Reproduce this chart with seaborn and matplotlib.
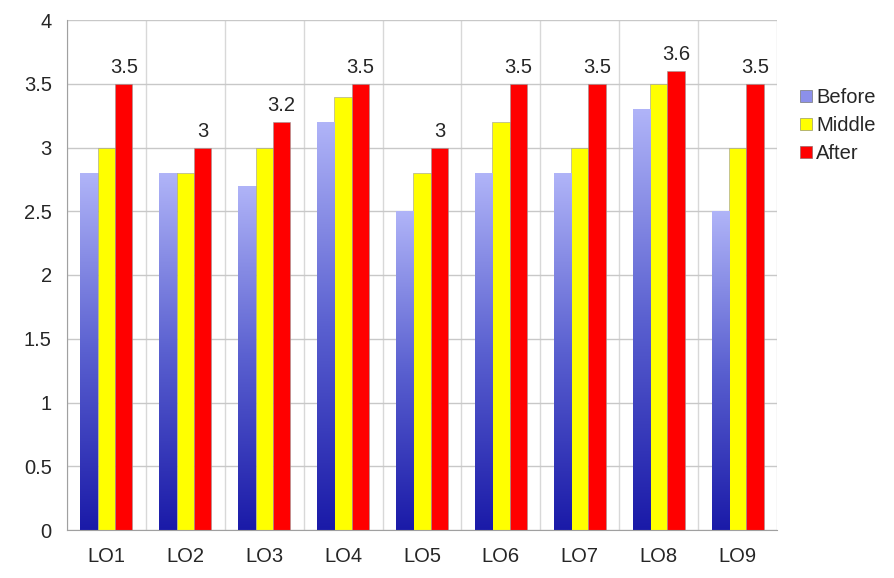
import matplotlib
matplotlib.use("Agg")
import matplotlib.pyplot as plt
import numpy as np
import pandas as pd
import seaborn as sns
from matplotlib.colors import LinearSegmentedColormap
from matplotlib.patches import Patch

# Data
categories = ["LO1", "LO2", "LO3", "LO4", "LO5", "LO6", "LO7", "LO8", "LO9"]
before = [2.8, 2.8, 2.7, 3.2, 2.5, 2.8, 2.8, 3.3, 2.5]
middle = [3.0, 2.8, 3.0, 3.4, 2.8, 3.2, 3.0, 3.5, 3.0]
after = [3.5, 3.0, 3.2, 3.5, 3.0, 3.5, 3.5, 3.6, 3.5]
series = ["Before", "Middle", "After"]

df = pd.DataFrame({
    "LO": categories * 3,
    "Score": before + middle + after,
    "Phase": [s for s in series for _ in categories],
})

sns.set_style("white")
plt.rcParams["font.family"] = ["Liberation Sans", "DejaVu Sans"]
FS = 14.5

fig = plt.figure(figsize=(8.95, 5.78), dpi=100)
ax = fig.add_axes([67 / 895, 48 / 578, 710 / 895, 510 / 578])

palette = {"Before": "#7b80e0", "Middle": "#ffff00", "After": "#ff0000"}
sns.barplot(data=df, x="LO", y="Score", hue="Phase", hue_order=series,
            palette=palette, width=0.66, saturation=1, ax=ax,
            edgecolor="#999999", linewidth=0.4, legend=False)

# gradient fill for the "Before" bars
cmap = LinearSegmentedColormap.from_list("bl", ["#1a1aa8", "#5a60d0", "#b0b4f8"])
grad = np.linspace(0, 1, 256).reshape(-1, 1)
for bar in ax.containers[0]:
    x0, y0 = bar.get_x(), bar.get_y()
    w, h = bar.get_width(), bar.get_height()
    im = ax.imshow(grad, cmap=cmap, origin="lower", aspect="auto",
                   extent=[x0, x0 + w, y0, y0 + h], zorder=bar.get_zorder())
    im.set_clip_path(bar)
    bar.set_facecolor("none")

ax.bar_label(ax.containers[2], labels=[f"{v:g}" for v in after],
             fontsize=FS, padding=5)

ax.set_xlim(-0.5, len(categories) - 0.5)
ax.set_ylim(0, 4)
ax.set_yticks(np.arange(0, 4.01, 0.5))
ax.set_yticklabels([f"{v:g}" for v in np.arange(0, 4.01, 0.5)])
ax.set_xticks(np.arange(-0.5, len(categories)), minor=True)
ax.grid(True, axis="y", color="#c8c8c8", linewidth=1)
ax.grid(True, axis="x", which="minor", color="#d8d8d8", linewidth=1)
ax.set_axisbelow(True)
ax.tick_params(axis="x", which="major", length=0, pad=12, labelsize=FS)
ax.tick_params(axis="x", which="minor", length=6, color="#a0a0a0", width=1)
ax.tick_params(axis="y", length=6, color="#a0a0a0", width=1, labelsize=FS, pad=5)
ax.set_xlabel("")
ax.set_ylabel("")
for s in ["top", "right"]:
    ax.spines[s].set_visible(False)
for s in ["left", "bottom"]:
    ax.spines[s].set_color("#a0a0a0")

handles = [Patch(facecolor="#8c90ea", edgecolor="#777777", linewidth=0.5, label="Before"),
           Patch(facecolor="#ffff00", edgecolor="#999966", linewidth=0.5, label="Middle"),
           Patch(facecolor="#ff0000", edgecolor="#996666", linewidth=0.5, label="After")]
fig.legend(handles=handles, loc="upper left", bbox_to_anchor=(800 / 895, 1 - 88 / 578),
           frameon=False, fontsize=FS, handlelength=0.6, handleheight=0.6,
           handletextpad=0.2, labelspacing=0.45, borderaxespad=0, borderpad=0)

fig.savefig("out.png", dpi=100)
